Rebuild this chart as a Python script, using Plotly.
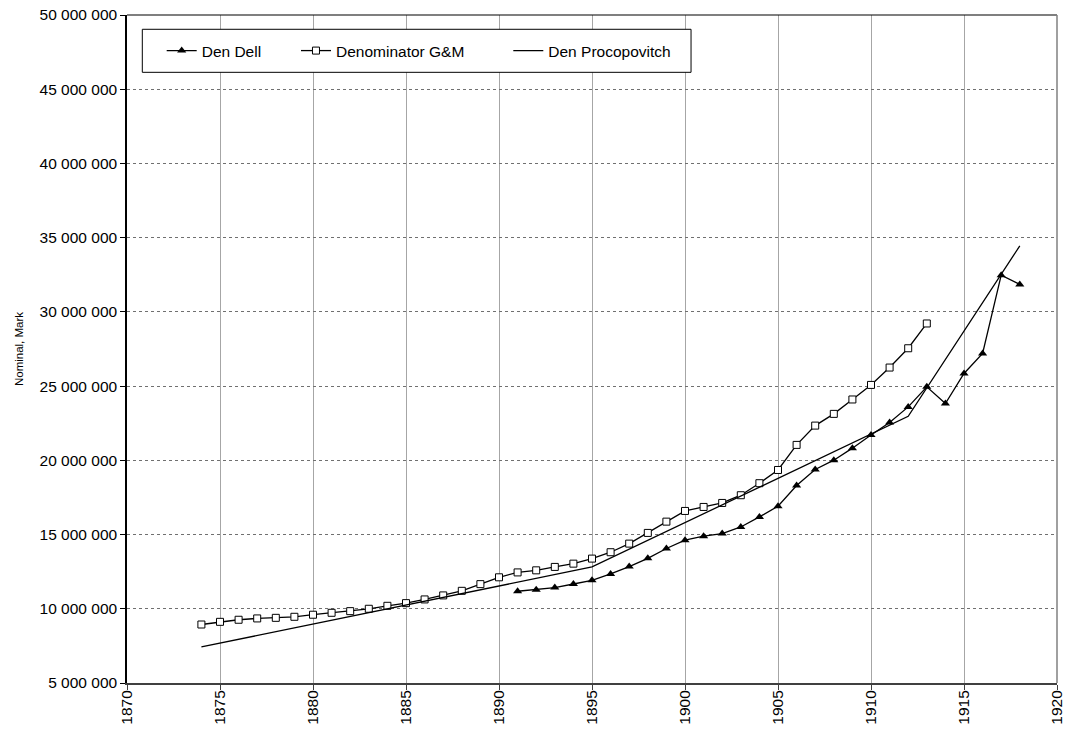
import plotly.graph_objects as go

# ---- data (values in millions of Mark) ----
years_dell = list(range(1891, 1919))
dell_m = [11.18, 11.29, 11.43, 11.67, 11.92, 12.35, 12.84, 13.40, 14.06, 14.62,
          14.89, 15.07, 15.51, 16.19, 16.91, 18.30, 19.38, 20.01, 20.82, 21.71,
          22.55, 23.60, 24.95, 23.83, 25.85, 27.20, 32.47, 31.85]

years_gm = list(range(1874, 1914))
gm_m = [8.94, 9.12, 9.26, 9.35, 9.39, 9.46, 9.60, 9.73, 9.84, 10.00,
        10.20, 10.38, 10.63, 10.90, 11.21, 11.66, 12.12, 12.45, 12.59, 12.82,
        13.04, 13.38, 13.81, 14.39, 15.11, 15.87, 16.59, 16.86, 17.13, 17.65,
        18.46, 19.35, 21.04, 22.34, 23.13, 24.10, 25.08, 26.25, 27.55, 29.22]

years_proc = [1874, 1895, 1912, 1918]
proc_m = [7.43, 12.82, 22.97, 34.45]

x_ticks = list(range(1870, 1921, 5))
y_ticks_m = list(range(5, 51, 5))

names = ["Den Dell", "Denominator G&M", "Den Procopovitch"]

M = 1_000_000
FONT = "Liberation Sans, Arial, sans-serif"

fig = go.Figure()
fig.add_trace(go.Scatter(
    x=years_dell, y=[v * M for v in dell_m], name=names[0], mode="lines+markers",
    line=dict(color="black", width=1.3),
    marker=dict(symbol="triangle-up", size=8, color="black"),
    legend="legend", showlegend=True))
fig.add_trace(go.Scatter(
    x=years_gm, y=[v * M for v in gm_m], name=names[1], mode="lines+markers",
    line=dict(color="black", width=1.3),
    marker=dict(symbol="square", size=7, color="white", line=dict(color="black", width=1)),
    legend="legend2", showlegend=True))
fig.add_trace(go.Scatter(
    x=years_proc, y=[v * M for v in proc_m], name=names[2], mode="lines",
    line=dict(color="black", width=1.3),
    legend="legend3", showlegend=True))

leg_common = dict(orientation="h", xanchor="left", yanchor="middle", y=0.9461,
                  bgcolor="rgba(0,0,0,0)", borderwidth=0,
                  font=dict(family=FONT, size=15.5, color="black"))

fig.update_layout(
    width=1067, height=735,
    margin=dict(l=127, r=10, t=15, b=52, autoexpand=False),
    paper_bgcolor="white", plot_bgcolor="white",
    separators=". ",
    showlegend=True,
    font=dict(family=FONT, size=15.5, color="black"),
    legend=dict(x=0.0373, **leg_common),
    legend2=dict(x=0.1817, **leg_common),
    legend3=dict(x=0.4100, **leg_common),
    shapes=[
        dict(type="rect", xref="paper", yref="paper", x0=0.01645, x1=0.6065,
             y0=0.9142, y1=0.9786, line=dict(color="black", width=1),
             fillcolor="white", layer="above"),
        dict(type="line", xref="paper", yref="paper", x0=0, x1=1, y0=1, y1=1,
             line=dict(color="black", width=1.2), layer="above"),
        dict(type="line", xref="paper", yref="paper", x0=1, x1=1, y0=0, y1=1,
             line=dict(color="#808080", width=1.5), layer="above"),
    ],
)

fig.update_xaxes(
    range=[1870, 1920], tickvals=x_ticks, tickangle=-90, automargin=False,
    ticklabeloverflow="allow", ticklabelstandoff=-6,
    showgrid=True, gridcolor="#a6a6a6", gridwidth=1,
    showline=True, linecolor="#404040", linewidth=2,
    ticks="outside", ticklen=5, tickcolor="#404040",
    tickfont=dict(family=FONT, size=15.5, color="black"),
    zeroline=False,
)
fig.update_yaxes(
    range=[5 * M, 50 * M], tickvals=[v * M for v in y_ticks_m], tickformat=",d",
    automargin=False, ticklabeloverflow="allow",
    showgrid=True, gridcolor="#707070", gridwidth=1, griddash="dot",
    showline=True, linecolor="black", linewidth=1.5,
    ticks="outside", ticklen=5, tickcolor="black",
    tickfont=dict(family=FONT, size=15.5, color="black"),
    title=dict(text="Nominal, Mark", font=dict(family=FONT, size=11.5, color="black"),
               standoff=14),
    zeroline=False,
)

fig.write_html("out.html", config={"displayModeBar": False},
               post_script="document.body.style.margin='0';document.body.style.overflow='hidden';")
